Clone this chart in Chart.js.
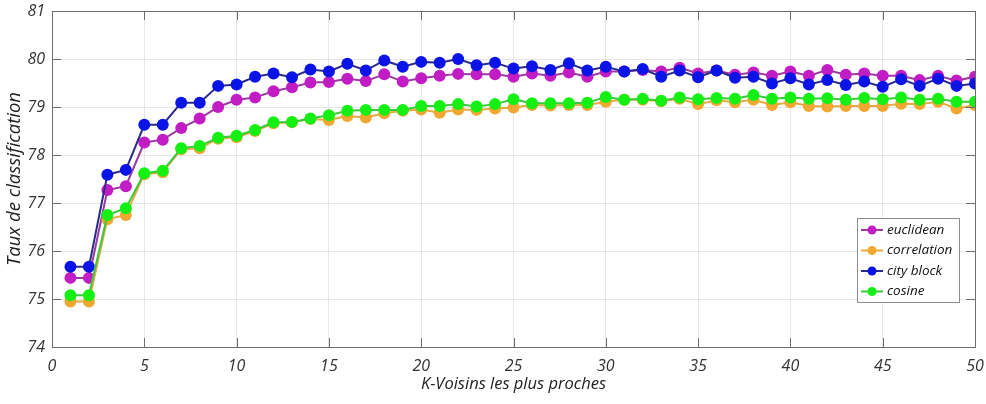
<!doctype html>
<html lang="fr">
  <head>
    <meta charset="utf-8">
    <title>Taux de classification - K-Voisins</title>
    <style>
      * { margin: 0; padding: 0; }
      html, body { background: #fff; overflow: hidden; }
      .chartBox { position: relative; width: 986px; height: 404px; }
    </style>
  </head>
  <body>
    <div class="chartBox">
      <canvas id="myChart"></canvas>
    </div>

    <script src="https://cdn.jsdelivr.net/npm/chart.js"></script>
    <script>
    // data
    const kValues = [1,2,3,4,5,6,7,8,9,10,11,12,13,14,15,16,17,18,19,20,21,22,23,24,25,
                     26,27,28,29,30,31,32,33,34,35,36,37,38,39,40,41,42,43,44,45,46,47,48,49,50];

    const euclidean = [75.44, 75.44, 77.27, 77.35, 78.26, 78.32, 78.56, 78.76, 79.00, 79.15,
                       79.20, 79.33, 79.41, 79.51, 79.52, 79.59, 79.54, 79.68, 79.53, 79.60,
                       79.65, 79.69, 79.68, 79.68, 79.63, 79.70, 79.65, 79.72, 79.63, 79.74,
                       79.74, 79.77, 79.74, 79.82, 79.70, 79.76, 79.67, 79.72, 79.65, 79.74,
                       79.65, 79.77, 79.67, 79.70, 79.65, 79.65, 79.56, 79.65, 79.55, 79.63];

    const correlation = [74.95, 74.95, 76.66, 76.75, 77.60, 77.64, 78.12, 78.14, 78.34, 78.37,
                         78.50, 78.66, 78.68, 78.75, 78.73, 78.81, 78.78, 78.87, 78.92, 78.95,
                         78.88, 78.95, 78.94, 78.97, 78.99, 79.04, 79.03, 79.04, 79.04, 79.11,
                         79.15, 79.15, 79.12, 79.17, 79.06, 79.14, 79.10, 79.15, 79.04, 79.10,
                         79.02, 79.01, 79.02, 79.02, 79.02, 79.07, 79.06, 79.11, 78.97, 79.04];

    const cityBlock = [75.67, 75.67, 77.59, 77.69, 78.63, 78.63, 79.09, 79.09, 79.44, 79.47,
                       79.63, 79.70, 79.62, 79.78, 79.74, 79.90, 79.76, 79.97, 79.84, 79.94,
                       79.92, 80.00, 79.87, 79.92, 79.80, 79.85, 79.77, 79.91, 79.76, 79.84,
                       79.74, 79.79, 79.63, 79.76, 79.62, 79.76, 79.61, 79.63, 79.49, 79.60,
                       79.47, 79.56, 79.46, 79.53, 79.42, 79.58, 79.44, 79.59, 79.44, 79.49];

    const cosine = [75.08, 75.08, 76.75, 76.89, 77.62, 77.67, 78.14, 78.19, 78.36, 78.40,
                    78.52, 78.68, 78.69, 78.76, 78.83, 78.92, 78.94, 78.94, 78.94, 79.02,
                    79.02, 79.06, 79.01, 79.06, 79.16, 79.08, 79.08, 79.08, 79.09, 79.21,
                    79.15, 79.17, 79.13, 79.20, 79.16, 79.19, 79.17, 79.25, 79.17, 79.20,
                    79.17, 79.18, 79.15, 79.19, 79.16, 79.20, 79.15, 79.17, 79.11, 79.11];

    const seriesNames = ['euclidean', 'correlation', 'city block', 'cosine'];
    const xTicks = [0, 5, 10, 15, 20, 25, 30, 35, 40, 45, 50];
    const yTicks = [74, 75, 76, 77, 78, 79, 80, 81];

    const FONT = '"Open Sans", "DejaVu Sans", sans-serif';
    const AXIS_GRAY = '#6e6e6e';

    // later series drawn on top, as in the original figure
    function makeSet(label, values, line, fill, order) {
      return {
        label: label,
        data: values.map((v, i) => ({ x: kValues[i], y: v })),
        borderColor: line,
        backgroundColor: fill,
        pointBackgroundColor: fill,
        pointBorderColor: fill,
        pointRadius: 6,
        pointBorderWidth: 0,
        borderWidth: 2,
        tension: 0,
        order: order
      };
    }

    // frame, inward ticks and legend drawn inside the plot
    const matlabFrame = {
      id: 'matlabFrame',
      afterDraw(chart) {
        const { ctx, chartArea: a, scales } = chart;
        ctx.save();
        ctx.strokeStyle = AXIS_GRAY;
        ctx.lineWidth = 1;
        ctx.strokeRect(a.left + 0.5, a.top + 0.5, a.right - a.left, a.bottom - a.top);

        ctx.beginPath();
        xTicks.forEach(t => {
          const x = Math.round(scales.x.getPixelForValue(t)) + 0.5;
          ctx.moveTo(x, a.bottom); ctx.lineTo(x, a.bottom - 9);
          ctx.moveTo(x, a.top); ctx.lineTo(x, a.top + 9);
        });
        yTicks.forEach(t => {
          const y = Math.round(scales.y.getPixelForValue(t)) + 0.5;
          ctx.moveTo(a.left, y); ctx.lineTo(a.left + 9, y);
          ctx.moveTo(a.right, y); ctx.lineTo(a.right - 9, y);
        });
        ctx.stroke();

        // legend box
        const bx = 857, by = 218, bw = 102, bh = 84;
        ctx.fillStyle = '#fff';
        ctx.fillRect(bx, by, bw, bh);
        ctx.strokeStyle = '#8c8c8c';
        ctx.lineWidth = 1;
        ctx.strokeRect(bx + 0.5, by + 0.5, bw, bh);
        ctx.font = 'italic 13.5px ' + FONT;
        ctx.textBaseline = 'middle';
        chart.data.datasets.forEach((ds, i) => {
          const y = by + 12 + i * 20.5;
          ctx.strokeStyle = ds.borderColor;
          ctx.lineWidth = 2;
          ctx.beginPath();
          ctx.moveTo(bx + 4, y); ctx.lineTo(bx + 26, y);
          ctx.stroke();
          ctx.fillStyle = ds.pointBackgroundColor;
          ctx.beginPath();
          ctx.arc(bx + 15, y, 4.5, 0, Math.PI * 2);
          ctx.fill();
          ctx.fillStyle = '#111';
          ctx.fillText(ds.label, bx + 30, y);
        });
        ctx.restore();
      }
    };

    const config = {
      type: 'line',
      data: {
        datasets: [
          makeSet(seriesNames[0], euclidean, '#9a3aa0', '#c21cc4', 4),
          makeSet(seriesNames[1], correlation, '#e6aa44', '#f0a830', 3),
          makeSet(seriesNames[2], cityBlock, '#2a2a8c', '#0a14e6', 2),
          makeSet(seriesNames[3], cosine, '#3cc83c', '#14f014', 1)
        ]
      },
      options: {
        responsive: false,
        animation: false,
        layout: { padding: { top: 11, right: 11, left: 0, bottom: 0 } },
        plugins: {
          legend: { display: false },
          tooltip: { enabled: false }
        },
        scales: {
          x: {
            type: 'linear',
            min: 0,
            max: 50,
            afterBuildTicks: axis => { axis.ticks = xTicks.map(v => ({ value: v })); },
            afterFit: axis => {
              axis.height = 57;
              axis.paddingLeft = 0;
              axis.paddingRight = 0;
            },
            grid: { color: '#e6e6e6', drawTicks: false },
            border: { display: false },
            ticks: {
              padding: 10,
              color: '#333',
              font: { family: FONT, size: 16, style: 'italic' }
            },
            title: {
              display: true,
              text: 'K-Voisins les plus proches',
              color: '#222',
              padding: { top: 0, bottom: 10 },
              font: { family: FONT, size: 16.5, style: 'italic' }
            }
          },
          y: {
            min: 74,
            max: 81,
            afterBuildTicks: axis => { axis.ticks = yTicks.map(v => ({ value: v })); },
            afterFit: axis => {
              axis.width = 52;
              axis.paddingTop = 0;
              axis.paddingBottom = 0;
            },
            grid: { color: '#e6e6e6', drawTicks: false },
            border: { display: false },
            ticks: {
              padding: 7,
              color: '#333',
              font: { family: FONT, size: 16, style: 'italic' }
            },
            title: {
              display: true,
              text: 'Taux de classification',
              color: '#222',
              padding: { top: 4, bottom: 0 },
              font: { family: FONT, size: 18.5, style: 'italic' }
            }
          }
        }
      },
      plugins: [matlabFrame]
    };

    const canvas = document.getElementById('myChart');
    canvas.width = 986;
    canvas.height = 404;
    const myChart = new Chart(canvas, config);
    </script>
  </body>
</html>
